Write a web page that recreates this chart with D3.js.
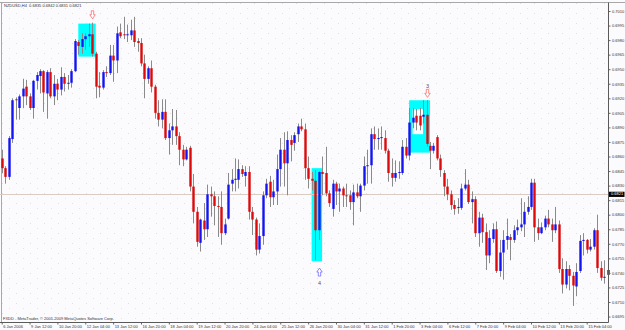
<!DOCTYPE html>
<html><head><meta charset="utf-8">
<script src="https://cdn.jsdelivr.net/npm/d3@7/dist/d3.min.js"></script>
<style>html,body{margin:0;padding:0;background:#fbfafd;}svg{display:block;}</style>
</head><body>
<svg id="c" width="625" height="330"></svg>
<script>
// ---- data (NZDUSD H4, bars from 6 Jan 2006 04:00) ----
const opens = [0.6858,0.6848,0.6839,0.6878,0.6919,0.6910,0.6922,0.6932,0.6922,0.6910,
0.6938,0.6943,0.6948,0.6925,0.6947,0.6922,0.6935,0.6929,0.6942,0.6935,
0.6936,0.6948,0.6978,0.6973,0.6981,0.6984,0.6986,0.6966,0.6933,0.6931,
0.6947,0.6946,0.6964,0.6959,0.6988,0.6986,0.6985,0.6985,0.6990,0.6979,
0.6977,0.6956,0.6940,0.6951,0.6932,0.6905,0.6898,0.6906,0.6879,0.6887,
0.6891,0.6881,0.6867,0.6857,0.6869,0.6829,0.6803,0.6771,0.6794,0.6785,
0.6821,0.6819,0.6809,0.6808,0.6781,0.6796,0.6832,0.6836,0.6836,0.6847,
0.6840,0.6844,0.6803,0.6795,0.6764,0.6778,0.6820,0.6834,0.6818,0.6824,
0.6847,0.6867,0.6853,0.6877,0.6874,0.6883,0.6891,0.6888,0.6848,0.6837,
0.6835,0.6784,0.6844,0.6843,0.6822,0.6806,0.6832,0.6824,0.6827,0.6820,
0.6820,0.6813,0.6823,0.6819,0.6830,0.6850,0.6851,0.6883,0.6878,0.6879,
0.6879,0.6866,0.6843,0.6838,0.6843,0.6843,0.6870,0.6861,0.6895,0.6902,
0.6902,0.6901,0.6903,0.6871,0.6866,0.6880,0.6858,0.6843,0.6829,0.6821,
0.6810,0.6807,0.6807,0.6827,0.6831,0.6813,0.6816,0.6781,0.6797,0.6782,
0.6758,0.6775,0.6785,0.6742,0.6761,0.6774,0.6777,0.6774,0.6784,0.6787,
0.6790,0.6803,0.6808,0.6833,0.6787,0.6781,0.6787,0.6796,0.6790,0.6784,
0.6790,0.6744,0.6728,0.6744,0.6737,0.6726,0.6742,0.6773,0.6774,0.6764,
0.6767,0.6784,0.6745,0.6735,0.6738];
const highs = [0.6867,0.6850,0.6881,0.6920,0.6921,0.6924,0.6940,0.6939,0.6925,0.6939,
0.6947,0.6950,0.6949,0.6949,0.6951,0.6944,0.6940,0.6952,0.6946,0.6944,
0.6950,0.6981,0.6980,0.6987,0.6987,0.6997,0.6998,0.6968,0.6947,0.6949,
0.6953,0.6975,0.6975,0.6994,0.6997,0.7004,0.6996,0.7001,0.7004,0.6982,
0.6982,0.6965,0.6953,0.6959,0.6934,0.6918,0.6919,0.6919,0.6894,0.6909,
0.6908,0.6885,0.6872,0.6870,0.6871,0.6842,0.6808,0.6796,0.6812,0.6831,
0.6829,0.6824,0.6819,0.6824,0.6796,0.6843,0.6847,0.6858,0.6857,0.6851,
0.6850,0.6850,0.6808,0.6797,0.6791,0.6824,0.6837,0.6840,0.6836,0.6862,
0.6879,0.6885,0.6886,0.6882,0.6885,0.6894,0.6899,0.6894,0.6860,0.6844,
0.6846,0.6845,0.6860,0.6870,0.6825,0.6836,0.6834,0.6832,0.6829,0.6832,
0.6825,0.6831,0.6832,0.6832,0.6860,0.6867,0.6889,0.6891,0.6889,0.6891,
0.6887,0.6868,0.6858,0.6856,0.6855,0.6877,0.6879,0.6910,0.6910,0.6909,
0.6910,0.6918,0.6918,0.6875,0.6874,0.6882,0.6862,0.6846,0.6837,0.6825,
0.6815,0.6817,0.6832,0.6847,0.6836,0.6824,0.6819,0.6803,0.6801,0.6791,
0.6784,0.6791,0.6793,0.6774,0.6784,0.6796,0.6780,0.6789,0.6795,0.6817,
0.6813,0.6819,0.6837,0.6837,0.6796,0.6792,0.6799,0.6805,0.6796,0.6808,
0.6794,0.6755,0.6752,0.6748,0.6741,0.6750,0.6779,0.6781,0.6775,0.6775,
0.6786,0.6800,0.6752,0.6753,0.6747];
const lows = [0.6843,0.6832,0.6836,0.6874,0.6898,0.6898,0.6910,0.6913,0.6908,0.6899,
0.6929,0.6925,0.6906,0.6899,0.6920,0.6913,0.6918,0.6923,0.6927,0.6929,
0.6931,0.6947,0.6965,0.6966,0.6970,0.6973,0.6963,0.6920,0.6921,0.6929,
0.6942,0.6944,0.6937,0.6946,0.6982,0.6981,0.6978,0.6980,0.6973,0.6968,
0.6953,0.6920,0.6935,0.6926,0.6899,0.6891,0.6889,0.6877,0.6862,0.6872,
0.6872,0.6851,0.6850,0.6856,0.6824,0.6791,0.6767,0.6762,0.6774,0.6777,
0.6798,0.6789,0.6777,0.6769,0.6779,0.6795,0.6824,0.6824,0.6827,0.6839,
0.6829,0.6795,0.6779,0.6758,0.6760,0.6769,0.6817,0.6808,0.6810,0.6810,
0.6829,0.6829,0.6820,0.6855,0.6866,0.6875,0.6886,0.6836,0.6827,0.6825,
0.6753,0.6774,0.6820,0.6819,0.6808,0.6798,0.6810,0.6803,0.6808,0.6808,
0.6805,0.6789,0.6817,0.6803,0.6825,0.6832,0.6832,0.6867,0.6867,0.6867,
0.6863,0.6834,0.6829,0.6834,0.6837,0.6841,0.6858,0.6856,0.6889,0.6887,
0.6887,0.6894,0.6870,0.6847,0.6863,0.6856,0.6839,0.6819,0.6815,0.6805,
0.6800,0.6801,0.6805,0.6825,0.6811,0.6791,0.6777,0.6767,0.6771,0.6743,
0.6750,0.6771,0.6740,0.6736,0.6733,0.6764,0.6753,0.6771,0.6779,0.6783,
0.6777,0.6800,0.6805,0.6772,0.6774,0.6780,0.6784,0.6787,0.6772,0.6781,
0.6740,0.6719,0.6724,0.6722,0.6706,0.6716,0.6740,0.6758,0.6760,0.6762,
0.6764,0.6740,0.6732,0.6729,0.6726];
const closes = [0.6848,0.6839,0.6879,0.6918,0.6918,0.6922,0.6930,0.6922,0.6910,0.6938,
0.6944,0.6948,0.6926,0.6947,0.6922,0.6935,0.6929,0.6942,0.6935,0.6936,
0.6948,0.6979,0.6974,0.6981,0.6984,0.6986,0.6966,0.6932,0.6931,0.6947,
0.6946,0.6964,0.6959,0.6987,0.6984,0.6985,0.6986,0.6990,0.6978,0.6977,
0.6956,0.6940,0.6951,0.6932,0.6905,0.6898,0.6906,0.6879,0.6887,0.6891,
0.6881,0.6867,0.6857,0.6867,0.6829,0.6803,0.6772,0.6795,0.6785,0.6821,
0.6819,0.6809,0.6808,0.6781,0.6790,0.6831,0.6836,0.6837,0.6847,0.6842,
0.6844,0.6803,0.6795,0.6764,0.6778,0.6820,0.6832,0.6818,0.6824,0.6847,
0.6867,0.6853,0.6877,0.6872,0.6882,0.6891,0.6888,0.6848,0.6837,0.6835,
0.6784,0.6844,0.6842,0.6822,0.6812,0.6832,0.6824,0.6827,0.6820,0.6819,
0.6813,0.6823,0.6819,0.6830,0.6850,0.6851,0.6883,0.6878,0.6879,0.6880,
0.6866,0.6843,0.6838,0.6843,0.6844,0.6870,0.6861,0.6895,0.6900,0.6895,
0.6892,0.6903,0.6873,0.6866,0.6871,0.6858,0.6846,0.6829,0.6821,0.6810,
0.6806,0.6808,0.6827,0.6831,0.6813,0.6816,0.6781,0.6797,0.6782,0.6758,
0.6776,0.6785,0.6742,0.6761,0.6774,0.6778,0.6774,0.6784,0.6787,0.6790,
0.6803,0.6808,0.6833,0.6787,0.6781,0.6787,0.6796,0.6790,0.6784,0.6790,
0.6744,0.6728,0.6744,0.6737,0.6727,0.6741,0.6773,0.6774,0.6764,0.6767,
0.6784,0.6745,0.6735,0.6736,0.6743];

const timeLabels = ["6 Jan 2006","9 Jan 12:00","10 Jan 20:00","12 Jan 04:00","13 Jan 12:00",
"16 Jan 20:00","18 Jan 04:00","19 Jan 12:00","20 Jan 20:00","24 Jan 04:00","25 Jan 12:00",
"26 Jan 20:00","30 Jan 04:00","31 Jan 12:00","1 Feb 20:00","3 Feb 04:00","6 Feb 12:00",
"7 Feb 20:00","9 Feb 04:00","10 Feb 12:00","13 Feb 20:00","15 Feb 04:00"];
const barsPerLabel = 8;
const priceTicks = [0.7010,0.6995,0.6980,0.6965,0.6950,0.6935,0.6920,0.6905,0.6890,0.6875,
0.6860,0.6845,0.6830,0.6815,0.6800,0.6785,0.6770,0.6755,0.6740,0.6725,0.6710,0.6695];
const bidPrice = 0.6821;
const headerText = "NZDUSD,H4  0.6835 0.6842 0.6831 0.6821";
const footerText = "FXDD - MetaTrader, \u00a9 2001-2009 MetaQuotes Software Corp.";

// annotation objects (bar index / price)
const boxBar0 = [22, 117, 118, 89];
const boxBar1 = [27, 123, 121, 92];
const boxTop = [0.6997, 0.6918, 0.6909, 0.6848];
const boxBot = [0.6963, 0.6864, 0.6883, 0.6752];
const boxFill = ["#00ffff", "#00ffff", "#fbfafd", "#00ffff"];
const arrowBar = [26, 122, 91];
const arrowPrice = [0.7002, 0.6921, 0.6745];
const arrowDir = ["down", "down", "up"];
const arrowLabel = ["", "3", "4"];

// ---- drawing ----
const W = 625, H = 330;
const plotR = 608, plotB = 322;
const svg = d3.select("#c");
const n = opens.length;
const x = d3.scaleLinear().domain([0, n - 1]).range([1.7, 607.6]);
const y = d3.scaleLinear().domain([0.6695, 0.7010]).range([316.55, 11]);

svg.append("rect").attr("width", W).attr("height", H).attr("fill", "#fbfafd");

// faint dotted texture
const defs = svg.append("defs");
const pat = defs.append("pattern").attr("id", "dots").attr("patternUnits", "userSpaceOnUse")
  .attr("width", 14).attr("height", 10);
pat.append("rect").attr("x", 2).attr("y", 3).attr("width", 1).attr("height", 1).attr("fill", "#f6dcb4");
pat.append("rect").attr("x", 9).attr("y", 8).attr("width", 1).attr("height", 1).attr("fill", "#f6e2c2");
svg.append("rect").attr("x", 2).attr("y", 3).attr("width", plotR - 2).attr("height", plotB - 3)
  .attr("fill", "url(#dots)");

// frame
svg.append("line").attr("x1", 0).attr("x2", W).attr("y1", 2.5).attr("y2", 2.5).attr("stroke", "#a8a8a8");
svg.append("line").attr("x1", 1.5).attr("x2", 1.5).attr("y1", 2.5).attr("y2", plotB).attr("stroke", "#a8a8a8");

// boxes
const boxes = d3.range(boxBar0.length);
svg.append("g").selectAll("rect").data(boxes).join("rect")
  .attr("x", i => x(boxBar0[i]))
  .attr("y", i => y(boxTop[i]))
  .attr("width", i => x(boxBar1[i]) - x(boxBar0[i]))
  .attr("height", i => y(boxBot[i]) - y(boxTop[i]))
  .attr("fill", i => boxFill[i]);

// bid line
svg.append("line").attr("x1", 0).attr("x2", plotR).attr("y1", Math.round(y(bidPrice)) + 0.5)
  .attr("y2", Math.round(y(bidPrice)) + 0.5).attr("stroke", "#d8ccc4").attr("stroke-width", 1);

// candles
const idx = d3.range(n);
const g = svg.append("g");
g.selectAll("line.w").data(idx).join("line").attr("class", "w")
  .attr("x1", i => Math.round(x(i)) + 0.5).attr("x2", i => Math.round(x(i)) + 0.5)
  .attr("y1", i => y(highs[i])).attr("y2", i => y(lows[i]))
  .attr("stroke", "#8a8a8a").attr("stroke-width", 1);
g.selectAll("rect.b").data(idx).join("rect").attr("class", "b")
  .attr("x", i => Math.round(x(i)) + 0.5 - 1.2)
  .attr("width", 2.4)
  .attr("y", i => y(Math.max(opens[i], closes[i])))
  .attr("height", i => Math.max(1, y(Math.min(opens[i], closes[i])) - y(Math.max(opens[i], closes[i]))))
  .attr("fill", i => closes[i] > opens[i] ? "#1414f0" : (closes[i] < opens[i] ? "#dc0a0a" : "#8a8a8a"));

// arrows
const arrows = d3.range(arrowBar.length);
const downPath = "M-1.2,-8L1.2,-8L1.2,-4L2.7,-4L0,0L-2.7,-4L-1.2,-4Z";
const ag = svg.append("g");
ag.selectAll("path").data(arrows).join("path")
  .attr("d", downPath)
  .attr("transform", i => `translate(${Math.round(x(arrowBar[i])) + 0.5},${y(arrowPrice[i])})` + (arrowDir[i] === "up" ? " scale(1,-1)" : ""))
  .attr("fill", "#ffffff")
  .attr("stroke", i => arrowDir[i] === "up" ? "#6b6bff" : "#ff6b6b")
  .attr("stroke-width", 0.8);
ag.selectAll("text").data(arrows.filter(i => arrowLabel[i])).join("text")
  .attr("x", i => Math.round(x(arrowBar[i])) + 0.5)
  .attr("y", i => y(arrowPrice[i]) + (arrowDir[i] === "up" ? 15 : -11))
  .attr("text-anchor", "middle").attr("dominant-baseline", "middle")
  .attr("font-family", "Liberation Sans, Arial, sans-serif").attr("font-size", 5.5)
  .attr("fill", "#555").text(i => arrowLabel[i]);

// axes
const font = "Liberation Sans, Arial, sans-serif";
const yAxis = d3.axisRight(y).tickValues(priceTicks).tickFormat(d3.format(".4f")).tickSize(2).tickPadding(1.5);
const ya = svg.append("g").attr("transform", `translate(${plotR + 0.5},0)`).call(yAxis);
ya.select(".domain").remove();
ya.selectAll("line").attr("stroke", "#666");
ya.selectAll("text").attr("font-family", font).attr("font-size", 4).attr("fill", "#333");

const xAxis = d3.axisBottom(x).tickValues(timeLabels.map((d, k) => k * barsPerLabel))
  .tickFormat((d, k) => timeLabels[k]).tickSize(2).tickPadding(1);
const xa = svg.append("g").attr("transform", `translate(0,${plotB + 0.5})`).call(xAxis);
xa.select(".domain").remove();
xa.selectAll("line").attr("stroke", "#666");
xa.selectAll("text").attr("font-family", font).attr("font-size", 4).attr("fill", "#333")
  .attr("text-anchor", "start").attr("dx", 1);

svg.append("line").attr("x1", plotR + 0.5).attr("x2", plotR + 0.5).attr("y1", 2.5).attr("y2", plotB + 0.5)
  .attr("stroke", "#5a5a5a");
svg.append("line").attr("x1", 0).attr("x2", plotR + 0.5).attr("y1", plotB + 0.5).attr("y2", plotB + 0.5)
  .attr("stroke", "#5a5a5a");

// bid label
const by = y(bidPrice);
svg.append("rect").attr("x", plotR + 1).attr("y", by - 2.6).attr("width", 15.5).attr("height", 5.2).attr("fill", "#000");
svg.append("text").attr("x", plotR + 3).attr("y", by).attr("dominant-baseline", "middle")
  .attr("font-family", font).attr("font-size", 4).attr("fill", "#fff").text(d3.format(".4f")(bidPrice));

// header / footer
svg.append("text").attr("x", 4).attr("y", 5.5).attr("dominant-baseline", "middle")
  .attr("font-family", font).attr("font-size", 4).attr("fill", "#333").attr("xml:space", "preserve").text(headerText);
svg.append("text").attr("x", 3).attr("y", 318.5).attr("dominant-baseline", "middle")
  .attr("font-family", font).attr("font-size", 4).attr("fill", "#333").text(footerText);
</script>
</body></html>
